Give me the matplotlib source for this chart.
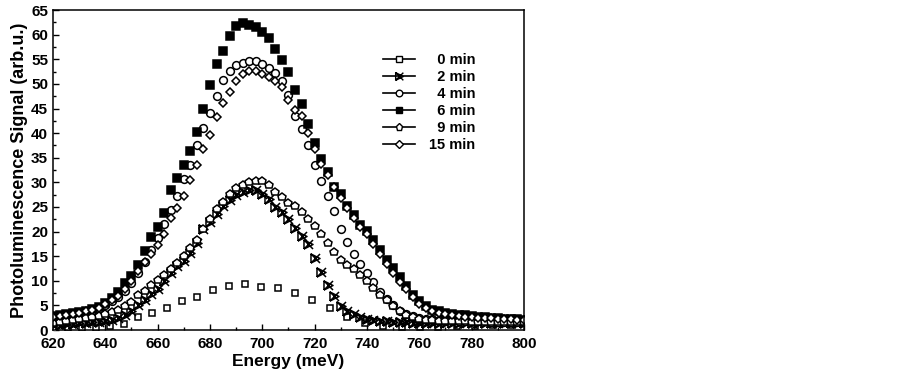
import matplotlib
matplotlib.use("Agg")
import matplotlib.pyplot as plt
from matplotlib.path import Path
from matplotlib.lines import Line2D
from matplotlib.ticker import MultipleLocator

plt.rcParams['font.family'] = ['Liberation Sans', 'DejaVu Sans']
plt.rcParams['font.weight'] = 'bold'

# ---------------- data ----------------
energy = [620, 622.5, 625, 627.5, 630, 632.5, 635, 637.5, 640, 642.5, 645, 647.5,
          650, 652.5, 655, 657.5, 660, 662.5, 665, 667.5, 670, 672.5, 675, 677.5,
          680, 682.5, 685, 687.5, 690, 692.5, 695, 697.5, 700, 702.5, 705, 707.5,
          710, 712.5, 715, 717.5, 720, 722.5, 725, 727.5, 730, 732.5, 735, 737.5,
          740, 742.5, 745, 747.5, 750, 752.5, 755, 757.5, 760, 762.5, 765, 767.5,
          770, 772.5, 775, 777.5, 780, 782.5, 785, 787.5, 790, 792.5, 795, 797.5, 800]

energy_0min = [620.5, 625.8, 631.1, 636.4, 641.7, 647.0, 652.4, 657.9, 663.4, 669.2,
               675.2, 681.2, 687.2, 693.3, 699.6, 706.0, 712.4, 719.0, 725.7, 732.5,
               739.3, 746.3, 753.3, 760.3, 767.3, 774.3, 781.3, 788.3, 795.3]
pl_0min = [0.3, 0.4, 0.4, 0.5, 0.8, 1.2, 2.7, 3.4, 4.4, 5.8, 6.8, 8.1, 8.9, 9.3,
           8.7, 8.5, 7.5, 6.2, 4.4, 2.7, 1.4, 0.8, 0.6, 0.6, 0.7, 0.8, 0.9, 1.0, 1.0]

pl_2min = [1.0, 1.1, 1.2, 1.3, 1.4, 1.5, 1.6, 1.7, 1.9, 2.1, 2.4, 3.0,
           3.9, 5.1, 6.2, 7.3, 8.4, 10.0, 11.6, 13.1, 14.0, 15.6, 17.7, 20.5,
           22.0, 23.5, 25.3, 26.5, 27.5, 28.0, 28.4, 28.4, 27.6, 26.6, 25.0, 24.0,
           22.6, 20.8, 19.2, 17.4, 14.6, 11.8, 9.2, 6.9, 4.9, 3.8, 3.3, 2.7,
           2.3, 2.1, 1.9, 1.8, 1.7, 1.6, 1.6, 1.5, 1.5, 1.5, 1.5, 1.5,
           1.5, 1.5, 1.5, 1.5, 1.5, 1.5, 1.5, 1.5, 1.5, 1.5, 1.5, 1.5, 1.5]

pl_4min = [2.2, 2.4, 2.6, 2.8, 3.1, 3.4, 3.8, 4.3, 5.0, 5.8, 6.8, 8.0,
           9.6, 11.5, 13.8, 16.3, 18.8, 21.5, 24.3, 27.3, 30.6, 33.6, 37.5, 41.0,
           44.2, 47.6, 50.8, 52.6, 53.8, 54.3, 54.6, 54.6, 54.1, 53.3, 52.3, 50.6,
           47.8, 43.5, 40.8, 37.5, 33.6, 30.2, 27.3, 24.1, 20.5, 17.8, 15.5, 13.4,
           11.5, 9.8, 7.8, 6.3, 5.0, 3.9, 3.2, 2.8, 2.5, 2.3, 2.2, 2.1,
           2.0, 2.0, 1.9, 1.9, 1.8, 1.8, 1.8, 1.7, 1.7, 1.7, 1.7, 1.6, 1.6]

pl_6min = [2.9, 3.0, 3.2, 3.4, 3.6, 3.9, 4.2, 4.6, 5.5, 6.6, 7.8, 9.5,
           11.0, 13.3, 16.0, 19.0, 21.0, 23.8, 28.5, 30.8, 33.6, 36.3, 40.3, 45.0,
           49.7, 54.0, 56.6, 59.8, 61.7, 62.3, 62.0, 61.6, 60.6, 59.4, 57.2, 54.9,
           52.4, 48.8, 45.9, 41.8, 38.0, 34.7, 32.2, 29.1, 27.6, 25.2, 23.4, 21.4,
           20.2, 18.3, 16.2, 14.2, 12.6, 10.7, 9.0, 7.1, 5.8, 4.8, 4.1, 3.8,
           3.5, 3.3, 3.1, 3.0, 2.8, 2.7, 2.6, 2.5, 2.4, 2.3, 2.2, 2.2, 2.1]

pl_9min = [1.5, 1.7, 1.9, 2.1, 2.3, 2.5, 2.6, 2.9, 3.2, 3.6, 4.0, 4.8,
           5.6, 7.1, 8.0, 9.1, 10.1, 11.2, 12.3, 13.6, 15.0, 16.6, 18.3, 20.5,
           22.5, 24.6, 26.1, 27.6, 28.8, 29.5, 30.0, 30.3, 30.2, 29.4, 28.0, 27.0,
           25.9, 25.1, 24.0, 22.6, 21.2, 19.6, 17.7, 15.8, 14.3, 13.3, 12.3, 11.1,
           10.0, 8.6, 7.2, 6.0, 4.9, 3.9, 3.0, 2.6, 2.3, 2.1, 2.0, 1.9,
           1.9, 1.8, 1.8, 1.8, 1.7, 1.7, 1.7, 1.7, 1.6, 1.6, 1.6, 1.6, 1.6]

pl_15min = [2.7, 2.9, 3.1, 3.3, 3.5, 3.8, 4.1, 4.5, 5.2, 6.0, 7.0, 8.3,
            10.0, 12.0, 13.8, 15.5, 17.3, 19.5, 22.8, 24.8, 27.3, 30.4, 33.5, 36.7,
            39.6, 43.2, 46.2, 48.3, 50.6, 52.0, 52.7, 52.7, 52.1, 51.4, 50.7, 49.4,
            46.7, 44.7, 43.4, 40.0, 36.8, 33.7, 31.4, 29.0, 26.8, 24.8, 22.7, 21.0,
            19.5, 17.5, 15.5, 13.4, 11.6, 9.8, 8.3, 6.7, 5.3, 4.4, 3.8, 3.4,
            3.2, 3.0, 2.8, 2.7, 2.6, 2.5, 2.4, 2.4, 2.3, 2.2, 2.2, 2.1, 2.0]

labels = ['  0 min', '  2 min', '  4 min', '  6 min', '  9 min', '15 min']
x_ticks = [620, 640, 660, 680, 700, 720, 740, 760, 780, 800]
y_ticks = [0, 5, 10, 15, 20, 25, 30, 35, 40, 45, 50, 55, 60, 65]

# custom "crossed triangle" marker for 2 min
xtri = Path([(-1, -1), (1, 1), (-1, 1), (1, -1), (-1, -1), (-1, 1), (1, 0), (-1, -1)],
            [Path.MOVETO, Path.LINETO, Path.MOVETO, Path.LINETO,
             Path.MOVETO, Path.LINETO, Path.LINETO, Path.LINETO])

fig = plt.figure(figsize=(9.03, 3.76), dpi=100)
ax = fig.add_axes([0.0587, 0.1223, 0.5215, 0.8507])

ew = 1.1
styles = [
    dict(marker='s', ms=5.0, mfc='white', mec='black'),
    dict(marker=xtri, ms=6.5, mfc='none', mec='black'),
    dict(marker='o', ms=5.6, mfc='white', mec='black'),
    dict(marker='s', ms=5.3, mfc='black', mec='black'),
    dict(marker='p', ms=6.2, mfc='white', mec='black'),
    dict(marker='D', ms=4.3, mfc='white', mec='black'),
]
series = [(energy_0min, pl_0min), (energy, pl_2min), (energy, pl_4min),
          (energy, pl_6min), (energy, pl_9min), (energy, pl_15min)]

for (xs, ys), st in zip(series, styles):
    ax.plot(xs, ys, linestyle='none', mew=ew, **st)

handles = [Line2D([], [], color='black', lw=1.2, mew=1.0,
                  **{**st, 'ms': st['ms'] * 0.85}) for st in styles]
leg = ax.legend(handles, labels, loc='upper left', bbox_to_anchor=(0.70, 0.866),
                frameon=False, fontsize=10.5, handlelength=2.2, handletextpad=1.0,
                labelspacing=0.21, borderpad=0, borderaxespad=0)
for t in leg.get_texts():
    t.set_fontweight('bold')

ax.set_xlim(620, 800)
ax.set_ylim(0, 65)
ax.set_xticks(x_ticks)
ax.set_yticks(y_ticks)
ax.xaxis.set_minor_locator(MultipleLocator(10))
ax.yaxis.set_minor_locator(MultipleLocator(2.5))
ax.tick_params(which='both', direction='in', top=False, right=False,
               labelsize=11, width=1.0)
ax.tick_params(axis='x', which='major', pad=5)
ax.tick_params(which='major', length=4)
ax.tick_params(which='minor', length=2.5)
for lab in ax.get_xticklabels() + ax.get_yticklabels():
    lab.set_fontweight('bold')
for s in ax.spines.values():
    s.set_linewidth(1.1)

ax.set_xlabel('Energy (meV)', fontsize=12.5, fontweight='bold', labelpad=2)
ax.set_ylabel('Photoluminescence Signal (arb.u.)', fontsize=13, fontweight='bold', labelpad=2)

fig.savefig('out.png', dpi=100)
